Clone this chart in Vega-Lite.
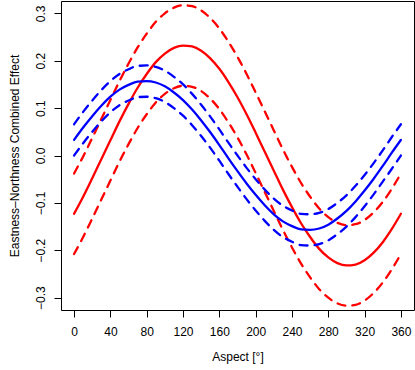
{
  "$schema": "https://vega.github.io/schema/vega-lite/v6.json",
  "autosize": {"type": "none"},
  "width": 353,
  "height": 309,
  "padding": {"left": 61, "top": 1, "right": 1, "bottom": 60},
  "background": "white",
  "config": {
    "view": {"stroke": "black", "strokeWidth": 1},
    "font": "Liberation Sans",
    "axis": {
      "grid": false,
      "domain": false,
      "tickColor": "black",
      "tickSize": 7,
      "labelColor": "black",
      "labelFontSize": 12,
      "labelFont": "Liberation Sans",
      "titleFont": "Liberation Sans",
      "titleFontSize": 12,
      "titleFontWeight": "normal",
      "titleColor": "black"
    }
  },
  "data": {
    "values": [
      {"a": 0, "r": -0.123, "ru": -0.038, "rl": -0.208, "b": 0.033, "bu": 0.066, "bl": 0.000},
      {"a": 10, "r": -0.087, "ru": -0.002, "rl": -0.172, "b": 0.059, "bu": 0.092, "bl": 0.026},
      {"a": 20, "r": -0.048, "ru": 0.037, "rl": -0.133, "b": 0.083, "bu": 0.116, "bl": 0.050},
      {"a": 30, "r": -0.008, "ru": 0.077, "rl": -0.093, "b": 0.105, "bu": 0.138, "bl": 0.072},
      {"a": 40, "r": 0.032, "ru": 0.117, "rl": -0.053, "b": 0.124, "bu": 0.157, "bl": 0.091},
      {"a": 50, "r": 0.072, "ru": 0.157, "rl": -0.013, "b": 0.139, "bu": 0.172, "bl": 0.106},
      {"a": 60, "r": 0.109, "ru": 0.194, "rl": 0.024, "b": 0.149, "bu": 0.182, "bl": 0.116},
      {"a": 70, "r": 0.143, "ru": 0.228, "rl": 0.058, "b": 0.156, "bu": 0.189, "bl": 0.123},
      {"a": 80, "r": 0.172, "ru": 0.257, "rl": 0.087, "b": 0.157, "bu": 0.190, "bl": 0.124},
      {"a": 90, "r": 0.197, "ru": 0.282, "rl": 0.112, "b": 0.154, "bu": 0.187, "bl": 0.121},
      {"a": 100, "r": 0.215, "ru": 0.300, "rl": 0.130, "b": 0.146, "bu": 0.179, "bl": 0.113},
      {"a": 110, "r": 0.227, "ru": 0.312, "rl": 0.142, "b": 0.133, "bu": 0.166, "bl": 0.100},
      {"a": 120, "r": 0.232, "ru": 0.317, "rl": 0.147, "b": 0.117, "bu": 0.150, "bl": 0.084},
      {"a": 130, "r": 0.230, "ru": 0.315, "rl": 0.145, "b": 0.097, "bu": 0.130, "bl": 0.064},
      {"a": 140, "r": 0.221, "ru": 0.306, "rl": 0.136, "b": 0.074, "bu": 0.107, "bl": 0.041},
      {"a": 150, "r": 0.205, "ru": 0.290, "rl": 0.120, "b": 0.049, "bu": 0.082, "bl": 0.016},
      {"a": 160, "r": 0.183, "ru": 0.268, "rl": 0.098, "b": 0.022, "bu": 0.055, "bl": -0.011},
      {"a": 170, "r": 0.155, "ru": 0.240, "rl": 0.070, "b": -0.006, "bu": 0.027, "bl": -0.039},
      {"a": 180, "r": 0.123, "ru": 0.208, "rl": 0.038, "b": -0.033, "bu": 0.000, "bl": -0.066},
      {"a": 190, "r": 0.087, "ru": 0.172, "rl": 0.002, "b": -0.059, "bu": -0.026, "bl": -0.092},
      {"a": 200, "r": 0.048, "ru": 0.133, "rl": -0.037, "b": -0.083, "bu": -0.050, "bl": -0.116},
      {"a": 210, "r": 0.008, "ru": 0.093, "rl": -0.077, "b": -0.105, "bu": -0.072, "bl": -0.138},
      {"a": 220, "r": -0.032, "ru": 0.053, "rl": -0.117, "b": -0.124, "bu": -0.091, "bl": -0.157},
      {"a": 230, "r": -0.072, "ru": 0.013, "rl": -0.157, "b": -0.139, "bu": -0.106, "bl": -0.172},
      {"a": 240, "r": -0.109, "ru": -0.024, "rl": -0.194, "b": -0.149, "bu": -0.116, "bl": -0.182},
      {"a": 250, "r": -0.143, "ru": -0.058, "rl": -0.228, "b": -0.156, "bu": -0.123, "bl": -0.189},
      {"a": 260, "r": -0.172, "ru": -0.087, "rl": -0.257, "b": -0.157, "bu": -0.124, "bl": -0.190},
      {"a": 270, "r": -0.197, "ru": -0.112, "rl": -0.282, "b": -0.154, "bu": -0.121, "bl": -0.187},
      {"a": 280, "r": -0.215, "ru": -0.130, "rl": -0.300, "b": -0.146, "bu": -0.113, "bl": -0.179},
      {"a": 290, "r": -0.227, "ru": -0.142, "rl": -0.312, "b": -0.133, "bu": -0.100, "bl": -0.166},
      {"a": 300, "r": -0.232, "ru": -0.147, "rl": -0.317, "b": -0.117, "bu": -0.084, "bl": -0.150},
      {"a": 310, "r": -0.230, "ru": -0.145, "rl": -0.315, "b": -0.097, "bu": -0.064, "bl": -0.130},
      {"a": 320, "r": -0.221, "ru": -0.136, "rl": -0.306, "b": -0.074, "bu": -0.041, "bl": -0.107},
      {"a": 330, "r": -0.205, "ru": -0.120, "rl": -0.290, "b": -0.049, "bu": -0.016, "bl": -0.082},
      {"a": 340, "r": -0.183, "ru": -0.098, "rl": -0.268, "b": -0.022, "bu": 0.011, "bl": -0.055},
      {"a": 350, "r": -0.155, "ru": -0.070, "rl": -0.240, "b": 0.006, "bu": 0.039, "bl": -0.028},
      {"a": 360, "r": -0.123, "ru": -0.038, "rl": -0.208, "b": 0.033, "bu": 0.066, "bl": 0.000}
    ]
  },
  "encoding": {
    "x": {
      "field": "a", "type": "quantitative",
      "scale": {"domain": [-14.4, 374.4], "nice": false, "zero": false},
      "axis": {
        "title": "Aspect [°]",
        "values": [0, 40, 80, 120, 160, 200, 240, 280, 320, 360],
        "labelPadding": 9,
        "titlePadding": 14
      }
    }
  },
  "layer": [
    {
      "mark": {"type": "line", "color": "#FF0000", "strokeWidth": 2.3, "strokeCap": "round", "interpolate": "monotone", "clip": true},
      "encoding": {
        "y": {
          "field": "r", "type": "quantitative",
          "scale": {"domain": [-0.326, 0.326], "nice": false, "zero": false},
          "axis": {
            "title": "Eastness–Northness Combined Effect",
            "values": [-0.3, -0.2, -0.1, 0, 0.1, 0.2, 0.3],
            "format": ".1f",
            "labelAngle": -90,
            "labelAlign": "center",
            "labelBaseline": "bottom",
            "labelPadding": 7,
            "titlePadding": 13
          }
        }
      }
    },
    {
      "mark": {"type": "line", "color": "#FF0000", "strokeWidth": 2.3, "strokeCap": "round", "strokeDash": [8, 7], "interpolate": "monotone", "clip": true},
      "encoding": {"y": {"field": "ru", "type": "quantitative"}}
    },
    {
      "mark": {"type": "line", "color": "#FF0000", "strokeWidth": 2.3, "strokeCap": "round", "strokeDash": [8, 7], "interpolate": "monotone", "clip": true},
      "encoding": {"y": {"field": "rl", "type": "quantitative"}}
    },
    {
      "mark": {"type": "line", "color": "#0000FF", "strokeWidth": 2.3, "strokeCap": "round", "interpolate": "monotone", "clip": true},
      "encoding": {"y": {"field": "b", "type": "quantitative"}}
    },
    {
      "mark": {"type": "line", "color": "#0000FF", "strokeWidth": 2.3, "strokeCap": "round", "strokeDash": [8, 7], "interpolate": "monotone", "clip": true},
      "encoding": {"y": {"field": "bu", "type": "quantitative"}}
    },
    {
      "mark": {"type": "line", "color": "#0000FF", "strokeWidth": 2.3, "strokeCap": "round", "strokeDash": [8, 7], "interpolate": "monotone", "clip": true},
      "encoding": {"y": {"field": "bl", "type": "quantitative"}}
    }
  ]
}
